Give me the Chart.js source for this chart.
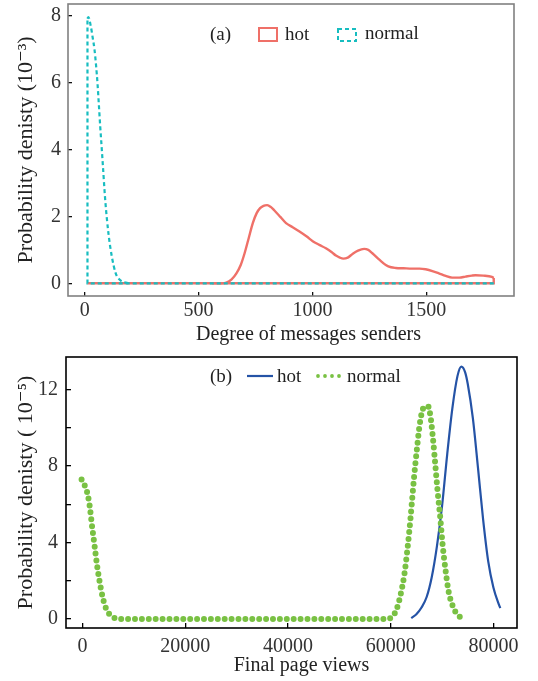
<!DOCTYPE html>
<html>
<head>
<meta charset="utf-8">
<script src="https://cdn.jsdelivr.net/npm/chart.js@4/dist/chart.umd.min.js"></script>
<style>
  html, body { margin: 0; padding: 0; background: #fff; }
  .panel { position: relative; width: 538px; }
  canvas { display: block; }
</style>
</head>
<body>
<div class="panel" style="height:345px"><canvas id="chart_a" width="538" height="345"></canvas></div>
<div class="panel" style="height:336px"><canvas id="chart_b" width="538" height="336"></canvas></div>
<script>
// (a) degree of messages senders, density in 10^-3
var senders_range = [12, 1796]
var hot_a_x = [560, 600, 622, 645, 666, 685, 702, 720, 738, 755, 770, 785, 801, 818, 833, 860, 884, 913, 943, 975, 1001, 1030, 1059, 1085, 1103, 1120, 1135, 1155, 1176, 1200, 1227, 1245, 1263, 1295, 1322, 1345, 1366, 1400, 1438, 1470, 1497, 1530, 1555, 1585, 1613, 1645, 1672, 1700, 1716, 1750, 1788, 1796]
var hot_a_y = [0, 0, 0.02, 0.12, 0.3, 0.55, 0.9, 1.35, 1.8, 2.1, 2.25, 2.32, 2.34, 2.28, 2.18, 1.98, 1.8, 1.68, 1.55, 1.4, 1.26, 1.15, 1.05, 0.93, 0.83, 0.77, 0.74, 0.77, 0.88, 0.98, 1.03, 1.0, 0.9, 0.7, 0.55, 0.48, 0.46, 0.45, 0.44, 0.44, 0.42, 0.36, 0.3, 0.22, 0.17, 0.17, 0.2, 0.23, 0.24, 0.23, 0.19, 0.16]
var normal_a_x = [12, 16, 27, 35, 43, 50, 56, 62, 68, 74, 80, 90, 104, 119, 136, 155, 180, 200]
var normal_a_y = [7.92, 7.97, 7.68, 7.35, 6.99, 6.5, 5.99, 5.35, 4.69, 4.1, 3.49, 2.49, 1.5, 0.8, 0.3, 0.1, 0.02, 0]
var ticks_a_x = [0, 500, 1000, 1500]
var ticks_a_y = [0, 2, 4, 6, 8]

// (b) final page views, density in 10^-5
var hot_b_x = [64000, 65000, 66000, 67000, 68000, 69000, 70000, 71000, 72000, 73000, 73750, 74500, 75000, 76000, 77000, 78000, 79000, 80000, 81000, 81340]
var hot_b_y = [0.05, 0.25, 0.6, 1.15, 2.2, 3.8, 5.9, 8.6, 11.0, 12.7, 13.2, 12.9, 12.3, 10.5, 7.9, 5.2, 3.0, 1.65, 0.8, 0.57]
var normal_b_x = [-200, 850, 1350, 1850, 2350, 2800, 3250, 3800, 4400, 5050, 6050, 7200, 59300, 60370, 61230, 62000, 62650, 63170, 63680, 64140, 64590, 65120, 65630, 66290, 66800, 67260, 67710, 68230, 68690, 69140, 69660, 70110, 70630, 71280, 72250, 73360, 74330]
var normal_b_y = [7.3, 6.66, 5.96, 4.83, 3.79, 2.83, 2.05, 1.27, 0.66, 0.31, 0.08, 0, 0, 0.14, 0.57, 1.36, 2.31, 3.44, 4.75, 6.14, 7.53, 8.92, 10.14, 11.0, 11.12, 11.13, 10.66, 9.44, 8.05, 6.66, 5.27, 3.88, 2.66, 1.44, 0.57, 0.14, 0.02]
var ticks_b_x = [0, 20000, 40000, 60000, 80000]
var ticks_b_y = [0, 2, 4, 6, 8, 10, 12]
var labels_b_y = [0, 4, 8, 12]

var red = '#ef7068'
var teal = '#17bdc0'
var blue = '#2553a6'
var green = '#79c143'
var serif = '"Liberation Serif", "DejaVu Serif", serif'

Chart.defaults.font.family = serif
Chart.defaults.color = '#333'

function points(xs, ys) {
  return xs.map(function (x, i) { return { x: x, y: ys[i] } })
}

function fixedTicks(list) {
  return function (scale) {
    scale.ticks = list.map(function (v) { return { value: v } })
  }
}

// keep the plot area where the layout padding puts it
function fixedSize(w, h) {
  return function (s) {
    if (w) s.width = w
    if (h) s.height = h
    s.paddingTop = 0
    s.paddingBottom = 0
    s.paddingLeft = 0
    s.paddingRight = 0
  }
}

// panel border drawn round the plot area
function boxPlugin(color) {
  return {
    id: 'box',
    afterDraw: function (chart) {
      var a = chart.chartArea
      var ctx = chart.ctx
      ctx.save()
      ctx.strokeStyle = color
      ctx.lineWidth = 1.6
      ctx.strokeRect(a.left, a.top, a.right - a.left, a.bottom - a.top)
      ctx.restore()
    }
  }
}

var legend_a = {
  id: 'legend_a',
  afterDraw: function (chart) {
    var ctx = chart.ctx
    ctx.save()
    ctx.font = '19px ' + serif
    ctx.fillStyle = '#222'
    ctx.textBaseline = 'middle'
    ctx.fillText('(a)', 210, 35)
    ctx.strokeStyle = red
    ctx.lineWidth = 2
    ctx.strokeRect(259, 28, 18, 13)
    ctx.fillText('hot', 285, 35)
    ctx.strokeStyle = teal
    ctx.setLineDash([4, 3])
    ctx.strokeRect(338, 29, 18, 12)
    ctx.setLineDash([])
    ctx.fillText('normal', 365, 34)
    ctx.restore()
  }
}

var legend_b = {
  id: 'legend_b',
  afterDraw: function (chart) {
    var ctx = chart.ctx
    ctx.save()
    ctx.font = '19px ' + serif
    ctx.fillStyle = '#222'
    ctx.textBaseline = 'middle'
    ctx.fillText('(b)', 210, 32)
    ctx.strokeStyle = blue
    ctx.lineWidth = 2.2
    ctx.beginPath()
    ctx.moveTo(247, 31)
    ctx.lineTo(273, 31)
    ctx.stroke()
    ctx.fillText('hot', 277, 32)
    ctx.fillStyle = green
    for (var i = 0; i < 4; i++) {
      ctx.beginPath()
      ctx.arc(318 + i * 7, 31, 1.9, 0, Math.PI * 2)
      ctx.fill()
    }
    ctx.fillStyle = '#222'
    ctx.fillText('normal', 347, 32)
    ctx.restore()
  }
}

function setChart_a(id) {
  var ctx = document.getElementById(id).getContext('2d')
  var first = senders_range[0], last = senders_range[1]
  var hotEnd = hot_a_y[hot_a_y.length - 1]
  new Chart(ctx, {
    type: 'scatter',
    data: {
      datasets: [{
        // normal: curve
        data: points(normal_a_x, normal_a_y),
        showLine: true, pointRadius: 0, borderColor: teal, borderWidth: 2.2,
        borderDash: [4, 3], cubicInterpolationMode: 'monotone', order: 0
      }, {
        // normal: left edge and zero line
        data: [{ x: last, y: 0 }, { x: first, y: 0 }, { x: first, y: normal_a_y[0] }],
        showLine: true, pointRadius: 0, borderColor: teal, borderWidth: 2.2,
        borderDash: [4, 3], tension: 0, order: 0
      }, {
        // hot: curve
        data: points(hot_a_x, hot_a_y),
        showLine: true, pointRadius: 0, borderColor: red, borderWidth: 2.4,
        cubicInterpolationMode: 'monotone', order: 1
      }, {
        // hot: right edge and zero line
        data: [{ x: last, y: hotEnd }, { x: last, y: 0 }, { x: first, y: 0 }],
        showLine: true, pointRadius: 0, borderColor: red, borderWidth: 2.4,
        tension: 0, order: 1
      }]
    },
    options: {
      responsive: false,
      animation: false,
      events: [],
      layout: { padding: { top: 4, right: 24, bottom: 0, left: 0 } },
      plugins: { legend: { display: false }, tooltip: { enabled: false } },
      scales: {
        x: {
          type: 'linear', min: -73.5, max: 1885,
          afterBuildTicks: fixedTicks(ticks_a_x),
          afterFit: fixedSize(0, 49),
          border: { display: false },
          grid: { drawOnChartArea: false, drawTicks: true, tickLength: -4, color: '#111', lineWidth: 1.3 },
          ticks: { padding: 7, font: { size: 20 }, maxRotation: 0, callback: function (v) { return String(v) } },
          // leading spaces: the title sits right of the panel centre in the original
          title: { display: true, text: '       Degree of messages senders', font: { size: 20 }, color: '#222', padding: { top: 0, bottom: -2 } }
        },
        y: {
          type: 'linear', min: -0.38, max: 8.36,
          afterBuildTicks: fixedTicks(ticks_a_y),
          afterFit: fixedSize(68, 0),
          border: { display: false },
          grid: { drawOnChartArea: false, drawTicks: true, tickLength: -4, color: '#111', lineWidth: 1.3 },
          ticks: { padding: 11, font: { size: 20 }, callback: function (v) { return String(v) } },
          title: { display: true, text: 'Probability denisty (10\u207B\u00B3)', font: { size: 22 }, color: '#222', padding: { top: 13, bottom: 0 } }
        }
      }
    },
    plugins: [boxPlugin('#808080'), legend_a]
  })
}

function setChart_b(id) {
  var ctx = document.getElementById(id).getContext('2d')
  new Chart(ctx, {
    type: 'scatter',
    data: {
      datasets: [{
        data: points(normal_b_x, normal_b_y),
        showLine: true, pointRadius: 0, borderColor: green, borderWidth: 6,
        borderDash: [0, 6.9], borderCapStyle: 'round',
        cubicInterpolationMode: 'monotone', order: 0
      }, {
        data: points(hot_b_x, hot_b_y),
        showLine: true, pointRadius: 0, borderColor: blue, borderWidth: 2.2,
        cubicInterpolationMode: 'monotone', order: 1
      }]
    },
    options: {
      responsive: false,
      animation: false,
      events: [],
      layout: { padding: { top: 12, right: 21, bottom: 0, left: 0 } },
      plugins: { legend: { display: false }, tooltip: { enabled: false } },
      scales: {
        x: {
          type: 'linear', min: -3233, max: 84596,
          afterBuildTicks: fixedTicks(ticks_b_x),
          afterFit: fixedSize(0, 53),
          border: { display: false },
          grid: { drawOnChartArea: false, drawTicks: true, tickLength: -5, color: '#000', lineWidth: 1.3 },
          ticks: { padding: 12, font: { size: 20 }, maxRotation: 0, callback: function (v) { return String(v) } },
          title: { display: true, text: '    Final page views', font: { size: 20 }, color: '#222', padding: { top: 0, bottom: 3 } }
        },
        y: {
          type: 'linear', min: -0.47, max: 13.7,
          afterBuildTicks: fixedTicks(ticks_b_y),
          afterFit: fixedSize(66, 0),
          border: { display: false },
          grid: { drawOnChartArea: false, drawTicks: true, tickLength: -5, color: '#000', lineWidth: 1.3 },
          ticks: {
            padding: 13, font: { size: 20 },
            callback: function (v) { return labels_b_y.indexOf(v) >= 0 ? String(v) : '' }
          },
          title: { display: true, text: 'Probability denisty ( 10\u207B\u2075)', font: { size: 22 }, color: '#222', padding: { top: 13, bottom: 0 } }
        }
      }
    },
    plugins: [boxPlugin('#000'), legend_b]
  })
}

setChart_a('chart_a')
setChart_b('chart_b')
</script>
</body>
</html>
